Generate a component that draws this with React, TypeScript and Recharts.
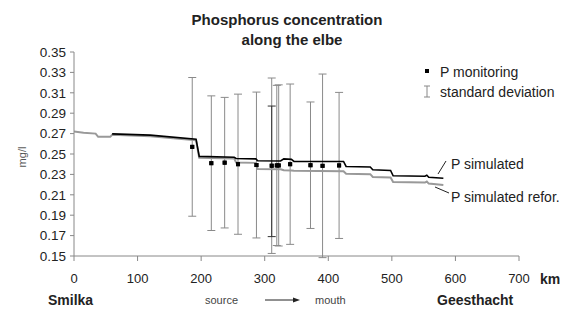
import React from "react";
import {
  ComposedChart,
  Line,
  Scatter,
  ErrorBar,
  XAxis,
  YAxis,
} from "recharts";

// simulated P along the river (km from Smilka)
const simKm = [0, 15, 34, 38, 57, 60, 120, 192, 197, 252, 255, 286, 289, 325, 330, 342, 346, 424, 428, 466, 470, 498, 502, 552, 555, 558, 581];
const pSim = [null, null, null, null, null, 0.2697, 0.2685, 0.2645, 0.2477, 0.2468, 0.2456, 0.2452, 0.2434, 0.2432, 0.2452, 0.2448, 0.2427, 0.2427, 0.2378, 0.2373, 0.2345, 0.2338, 0.2286, 0.2282, 0.2292, 0.2272, 0.2262];
const pRefor = [0.272, 0.2708, 0.27, 0.2668, 0.2668, 0.2688, 0.2675, 0.2635, 0.2462, 0.2455, 0.2417, 0.2413, 0.2352, 0.235, 0.234, 0.2338, 0.2335, 0.233, 0.2306, 0.2302, 0.2275, 0.227, 0.2225, 0.222, 0.223, 0.221, 0.2195];

// monitoring stations
const monKm = [186, 216, 237, 258, 287, 311, 319, 322, 340, 372, 391, 417];
const monP = [0.257, 0.241, 0.2415, 0.24, 0.2392, 0.2385, 0.2388, 0.2388, 0.24, 0.239, 0.2384, 0.2388];
const monSd = [0.068, 0.066, 0.064, 0.0687, 0.0715, 0.086, 0.0785, 0.079, 0.0786, 0.062, 0.09, 0.0716];

const darkKm = [311];
const darkP = [0.233];
const darkSd = [0.064];

const xTicks = [0, 100, 200, 300, 400, 500, 600, 700];
const yTicks = [0.15, 0.17, 0.19, 0.21, 0.23, 0.25, 0.27, 0.29, 0.31, 0.33, 0.35];

const simData = simKm.map((km, i) => ({ km, sim: pSim[i], refor: pRefor[i] }));
const monData = monKm.map((km, i) => ({ km, p: monP[i], err: monSd[i] }));
const darkData = darkKm.map((km, i) => ({ km, p: darkP[i], err: darkSd[i] }));

const font = "'Liberation Sans', Arial, sans-serif";

const Square = (props: any) => {
  const { cx, cy } = props;
  if (cx == null || cy == null) return <g />;
  return <rect x={cx - 2} y={cy - 2} width={4} height={4} fill="#000" />;
};

const App = () => {
  return (
    <div style={{ position: "absolute", left: 0, top: 0, width: 570, height: 309, background: "#fff", fontFamily: font }}>
      <ComposedChart
        width={570}
        height={309}
        margin={{ top: 52, right: 51, left: 0, bottom: 0 }}
      >
        <XAxis
          type="number"
          dataKey="km"
          domain={[0, 700]}
          ticks={xTicks}
          interval={0}
          height={53}
          stroke="#888"
          tickSize={5}
          tickMargin={13}
          tick={{ fill: "#222", fontSize: 13, fontFamily: font }}
          allowDataOverflow
        />
        <YAxis
          type="number"
          domain={[0.15, 0.35]}
          ticks={yTicks}
          interval={0}
          width={74}
          stroke="#888"
          tickSize={4}
          tickMargin={4}
          tick={{ fill: "#222", fontSize: 13.5, fontFamily: font }}
          tickFormatter={(v: number) => v.toFixed(2)}
          allowDataOverflow
        />
        <Scatter data={monData} dataKey="p" shape={<Square />} isAnimationActive={false}>
          <ErrorBar dataKey="err" direction="y" width={4} stroke="#8a8a8a" strokeWidth={1} />
        </Scatter>
        <Scatter data={darkData} dataKey="p" shape={() => <g />} isAnimationActive={false}>
          <ErrorBar dataKey="err" direction="y" width={4} stroke="#333" strokeWidth={1} />
        </Scatter>
        <Line
          data={simData}
          dataKey="refor"
          type="linear"
          stroke="#999"
          strokeWidth={2}
          dot={false}
          isAnimationActive={false}
        />
        <Line
          data={simData}
          dataKey="sim"
          type="linear"
          stroke="#000"
          strokeWidth={1.6}
          dot={false}
          isAnimationActive={false}
        />
        <Scatter data={monData} dataKey="p" shape={<Square />} isAnimationActive={false} />
      </ComposedChart>

      <svg
        width={570}
        height={309}
        style={{ position: "absolute", left: 0, top: 0, pointerEvents: "none" }}
        fontFamily={font}
      >
        <text x={287} y={25} textAnchor="middle" fontSize={15} fontWeight="bold" fill="#222">
          Phosphorus concentration
        </text>
        <text x={292} y={45} textAnchor="middle" fontSize={15} fontWeight="bold" fill="#222">
          along the elbe
        </text>
        <text x={0} y={0} transform="translate(26,157) rotate(-90)" textAnchor="middle" fontSize={11} fill="#555">
          mg/l
        </text>

        <rect x={425} y={69} width={4} height={4} fill="#000" />
        <text x={440} y={77} fontSize={14} fill="#222">P monitoring</text>
        <line x1={427} y1={86} x2={427} y2={97} stroke="#888" />
        <line x1={424} y1={86} x2={430} y2={86} stroke="#888" />
        <line x1={424} y1={97} x2={430} y2={97} stroke="#888" />
        <text x={440} y={97} fontSize={14} fill="#222">standard deviation</text>

        <line x1={438} y1={174} x2={446} y2={161} stroke="#222" />
        <text x={451} y={169} fontSize={14} fill="#222">P simulated</text>
        <line x1={435} y1={187} x2={449} y2={193} stroke="#222" />
        <text x={451} y={202} fontSize={14} fill="#222">P simulated refor.</text>

        <text x={540} y={284} fontSize={14} fontWeight="bold" fill="#222">km</text>
        <text x={48} y={305} fontSize={14} fontWeight="bold" fill="#222">Smilka</text>
        <text x={205} y={304} fontSize={11} fill="#444">source</text>
        <line x1={265} y1={300} x2={297} y2={300} stroke="#222" />
        <polygon points="300,300 293,297.5 293,302.5" fill="#222" />
        <text x={315} y={304} fontSize={11} fill="#444">mouth</text>
        <text x={437} y={305} fontSize={14} fontWeight="bold" fill="#222">Geesthacht</text>
      </svg>
    </div>
  );
};

export default App;
